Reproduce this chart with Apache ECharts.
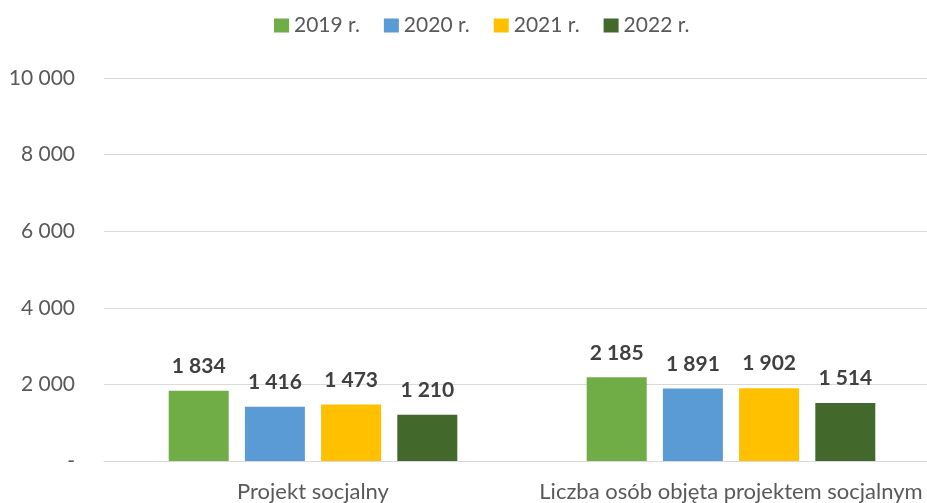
<!DOCTYPE html>
<html>
<head>
<meta charset="utf-8">
<script src="https://cdn.jsdelivr.net/npm/echarts@6/dist/echarts.min.js"></script>
<style>
  html, body { margin: 0; padding: 0; background: #fff; overflow: hidden; }
  #chart { width: 940px; height: 503px; }
</style>
</head>
<body>
<div id="chart"></div>
<script>
const categories = ['Projekt socjalny', 'Liczba osób objęta projektem socjalnym'];
const years = ['2019 r.', '2020 r.', '2021 r.', '2022 r.'];
const values2019 = [1834, 2185];
const values2020 = [1416, 1891];
const values2021 = [1473, 1902];
const values2022 = [1210, 1514];
const yTicks = { min: 0, max: 10000, interval: 2000 };

const colors = ['#70ad47', '#5b9bd5', '#ffc000', '#43682b'];
const seriesValues = [values2019, values2020, values2021, values2022];
const FONT = 'Lato, "Open Sans", sans-serif';

// thousands grouped with a space, zero shown as a dash
function fmt(v) {
  if (v === 0) return '-';
  return String(v).replace(/\B(?=(\d{3})+(?!\d))/g, ' ');
}

const chart = echarts.init(document.getElementById('chart'), null, { renderer: 'canvas' });

chart.setOption({
  animation: false,
  color: colors,
  textStyle: { fontFamily: FONT },
  legend: {
    top: 15,
    left: 274,
    padding: 0,
    itemWidth: 15,
    itemHeight: 14,
    itemGap: 24,
    icon: 'rect',
    textStyle: { fontFamily: FONT, fontSize: 21, color: '#595959' },
    data: years
  },
  grid: { left: 104, top: 78, right: 0, bottom: 42, containLabel: false },
  xAxis: {
    type: 'category',
    data: categories,
    axisTick: { show: false },
    axisLine: { lineStyle: { color: '#d9d9d9', width: 1 } },
    axisLabel: {
      interval: 0, hideOverlap: false,
      fontFamily: FONT, fontSize: 22, color: '#595959', margin: 20
    }
  },
  yAxis: {
    type: 'value',
    min: yTicks.min,
    max: yTicks.max,
    interval: yTicks.interval,
    axisLine: { show: false },
    axisTick: { show: false },
    splitLine: { lineStyle: { color: '#d9d9d9', width: 1 } },
    axisLabel: {
      fontFamily: FONT, fontSize: 21, color: '#595959', margin: 29,
      formatter: fmt
    }
  },
  series: years.map((name, i) => ({
    name,
    type: 'bar',
    data: seriesValues[i],
    barWidth: 60,
    barGap: '27%',
    itemStyle: { color: colors[i] },
    label: {
      show: true,
      position: 'top',
      distance: 14,
      fontFamily: FONT,
      fontSize: 21,
      fontWeight: 'bold',
      color: '#404040',
      formatter: p => fmt(p.value)
    }
  }))
});
</script>
</body>
</html>
